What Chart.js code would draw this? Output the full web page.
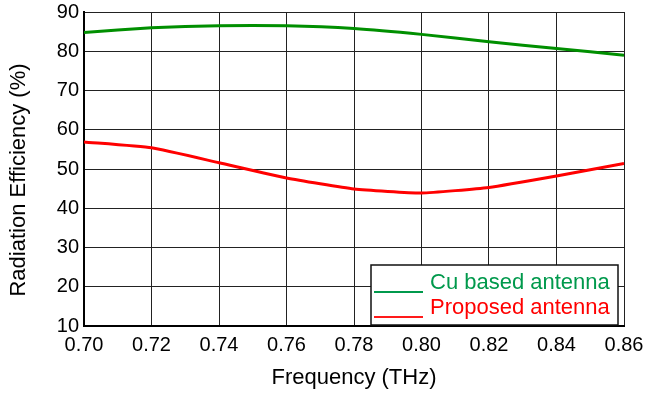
<!DOCTYPE html>
<html>
<head>
<meta charset="utf-8">
<script src="https://cdn.jsdelivr.net/npm/chart.js@4"></script>
<style>
  html, body { margin: 0; padding: 0; background: #fff; }
  #wrap { width: 646px; height: 394px; }
</style>
</head>
<body>
<div id="wrap"><canvas id="chart" width="646" height="394"></canvas></div>
<script>
// Frequency points (THz)
let freqs = [0.70, 0.72, 0.74, 0.76, 0.78, 0.80, 0.82, 0.84, 0.86];

// Radiation efficiency (%)
let cuEfficiency = [84.8, 86.0, 86.5, 86.5, 85.8, 84.3, 82.4, 80.7, 79.0];
let proposedEfficiency = [56.9, 55.4, 51.6, 47.7, 44.9, 43.9, 45.3, 48.2, 51.4];

// Tick labels
let xTicks = [0.70, 0.72, 0.74, 0.76, 0.78, 0.80, 0.82, 0.84, 0.86];
let yTicks = [10, 20, 30, 40, 50, 60, 70, 80, 90];

let seriesNames = ["Cu based antenna", "Proposed antenna"];
let yTitle = "Radiation Efficiency (%)";

let fontFamily = "'Liberation Sans', Arial, Helvetica, sans-serif";

function toPoints(values) {
  return freqs.map(function (f, i) { return { x: f, y: values[i] }; });
}

// Y axis title, sits a little below the plot centre like the original
let yAxisTitle = {
  id: "yAxisTitle",
  afterDraw: function (chart) {
    let ctx = chart.ctx;
    let area = chart.chartArea;
    ctx.save();
    ctx.translate(19, (area.top + area.bottom) / 2 + 11);
    ctx.rotate(-Math.PI / 2);
    ctx.font = "22px " + fontFamily;
    ctx.fillStyle = "#000";
    ctx.textAlign = "center";
    ctx.textBaseline = "middle";
    ctx.fillText(yTitle, 0, 0);
    ctx.restore();
  }
};

// Boxed legend in the lower right corner of the plot
let boxLegend = {
  id: "boxLegend",
  afterDatasetsDraw: function (chart) {
    let ctx = chart.ctx;
    let area = chart.chartArea;
    let w = 247, h = 60;
    let x = area.right - 6 - w;
    let y = area.bottom - 1 - h;
    ctx.save();
    ctx.fillStyle = "#fff";
    ctx.fillRect(x, y, w, h);
    ctx.strokeStyle = "#111";
    ctx.lineWidth = 1.5;
    ctx.strokeRect(x, y, w, h);
    let textColors = ["#00994c", "#ff0000"];
    let lineColors = ["#00994c", "#ff1a1a"];
    ctx.font = "22px " + fontFamily;
    ctx.textBaseline = "middle";
    ctx.textAlign = "left";
    chart.data.datasets.forEach(function (ds, i) {
      let rowY = y + 18 + i * 25;
      ctx.strokeStyle = lineColors[i];
      ctx.lineWidth = 2;
      ctx.beginPath();
      ctx.moveTo(x + 3, rowY + 9);
      ctx.lineTo(x + 52, rowY + 9);
      ctx.stroke();
      ctx.fillStyle = textColors[i];
      ctx.fillText(ds.label, x + 59, rowY);
    });
    ctx.restore();
  }
};

let ctx = document.getElementById("chart").getContext("2d");

let chart = new Chart(ctx, {
  type: "line",
  data: {
    datasets: [
      {
        label: seriesNames[0],
        data: toPoints(cuEfficiency),
        borderColor: "#008f00",
        borderWidth: 3,
        pointRadius: 0,
        tension: 0.15,
        fill: false,
      },
      {
        label: seriesNames[1],
        data: toPoints(proposedEfficiency),
        borderColor: "#ff0000",
        borderWidth: 3,
        pointRadius: 0,
        tension: 0.15,
        fill: false,
      },
    ],
  },
  options: {
    responsive: false,
    animation: false,
    layout: { padding: { top: 12, right: 22, left: 0, bottom: 0 } },
    plugins: {
      legend: { display: false },
      tooltip: { enabled: false },
    },
    scales: {
      x: {
        type: "linear",
        min: 0.70,
        max: 0.86,
        afterBuildTicks: function (scale) {
          scale.ticks = xTicks.map(function (v) { return { value: v }; });
        },
        afterFit: function (scale) {
          scale.height = 68;
          scale.paddingLeft = 0;
          scale.paddingRight = 0;
        },
        ticks: {
          color: "#000",
          padding: 7,
          maxRotation: 0,
          font: { family: fontFamily, size: 20 },
          callback: function (v) { return Number(v).toFixed(2); },
        },
        grid: { color: "#222", lineWidth: 1, drawTicks: false },
        border: { color: "#000", width: 2 },
        title: {
          display: true,
          text: "Frequency (THz)",
          color: "#000",
          font: { family: fontFamily, size: 22 },
          padding: { top: 0, bottom: 3 },
        },
      },
      y: {
        min: 10,
        max: 90,
        afterBuildTicks: function (scale) {
          scale.ticks = yTicks.map(function (v) { return { value: v }; });
        },
        afterFit: function (scale) {
          scale.width = 84;
          scale.paddingTop = 0;
          scale.paddingBottom = 0;
        },
        ticks: {
          color: "#000",
          padding: 5,
          font: { family: fontFamily, size: 20 },
        },
        grid: { color: "#222", lineWidth: 1, drawTicks: false },
        border: { color: "#000", width: 2 },
      },
    },
  },
  plugins: [boxLegend, yAxisTitle],
});
</script>
</body>
</html>
